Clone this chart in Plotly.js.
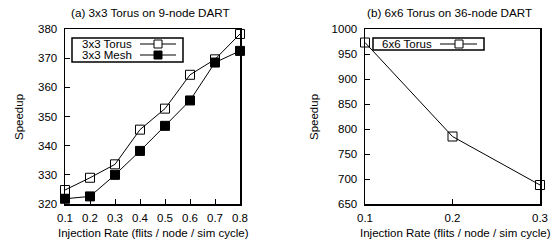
<!DOCTYPE html>
<html><head><meta charset="utf-8">
<script src="https://cdn.plot.ly/plotly-3.0.1.min.js"></script>
<style>html,body{margin:0;padding:0;background:#fff}#c{width:554px;height:245px}</style>
</head><body><div id="c"></div>
<script>
const rateA = [0.1, 0.2, 0.3, 0.4, 0.5, 0.6, 0.7, 0.8];
const torus3 = [324.8, 329.0, 333.6, 345.5, 352.7, 364.3, 369.6, 378.3];
const mesh3 = [321.8, 322.6, 330.0, 338.2, 346.8, 355.5, 368.5, 372.5];
const rateB = [0.1, 0.2, 0.3];
const torus6 = [973, 785, 688];
const seriesNames = ['3x3 Torus', '3x3 Mesh', '6x6 Torus'];
const titles = ['(a) 3x3 Torus on 9-node DART', '(b) 6x6 Torus on 36-node DART'];
const xTitle = 'Injection Rate (flits / node / sim cycle)';
const yTitle = 'Speedup';

const F = 'Liberation Sans, Arial, sans-serif';
const W = 554, H = 245;
const px = v => v / W, py = v => 1 - v / H;

const line = {color: '#000', width: 1};
const traces = [
  {x: rateA, y: torus3, name: seriesNames[0], mode: 'lines+markers', xaxis: 'x', yaxis: 'y', cliponaxis: false,
   line: line, marker: {symbol: 'square-open', size: 9, color: '#000', line: {width: 1, color: '#000'}}},
  {x: rateA, y: mesh3, name: seriesNames[1], mode: 'lines+markers', xaxis: 'x', yaxis: 'y', cliponaxis: false,
   line: line, marker: {symbol: 'square', size: 9, color: '#000', line: {width: 1, color: '#000'}}},
  {x: rateB, y: torus6, name: seriesNames[2], mode: 'lines+markers', xaxis: 'x2', yaxis: 'y2', cliponaxis: false,
   line: line, marker: {symbol: 'square-open', size: 9, color: '#000', line: {width: 1, color: '#000'}}}
];

const axBase = {showline: true, linecolor: '#000', linewidth: 1.5, mirror: true, ticks: 'inside', ticklen: 5,
  tickcolor: '#000', tickwidth: 1, showgrid: false, zeroline: false, tickfont: {family: F, size: 11.5, color: '#000'}, fixedrange: true};

const yT = py(204), yB = py(29);
const layout = {
  width: W, height: H, margin: {l: 0, r: 0, t: 0, b: 0}, paper_bgcolor: '#fff', plot_bgcolor: '#fff',
  showlegend: false,
  xaxis: Object.assign({}, axBase, {domain: [px(65), px(240)], range: [0.1, 0.8], dtick: 0.1, tick0: 0.1, anchor: 'y', ticklabelstandoff: 3}),
  yaxis: Object.assign({}, axBase, {domain: [yT, yB], range: [320, 380], dtick: 10, anchor: 'x', ticklabelstandoff: 4}),
  xaxis2: Object.assign({}, axBase, {domain: [px(365), px(540)], range: [0.1, 0.3], dtick: 0.1, tick0: 0.1, anchor: 'y2', ticklabelstandoff: 3}),
  yaxis2: Object.assign({}, axBase, {domain: [yT, yB], range: [650, 1000], dtick: 50, anchor: 'x2', ticklabelstandoff: 4}),
  annotations: [
    {text: titles[0], x: px(150), y: py(13), xref: 'paper', yref: 'paper', showarrow: false, xanchor: 'center', yanchor: 'middle', font: {family: F, size: 11.7, color: '#000'}},
    {text: titles[1], x: px(449), y: py(13), xref: 'paper', yref: 'paper', showarrow: false, xanchor: 'center', yanchor: 'middle', font: {family: F, size: 11.7, color: '#000'}},
    {text: xTitle, x: px(153), y: py(233), xref: 'paper', yref: 'paper', showarrow: false, xanchor: 'center', yanchor: 'middle', font: {family: F, size: 11.5, color: '#000'}},
    {text: xTitle, x: px(455), y: py(233), xref: 'paper', yref: 'paper', showarrow: false, xanchor: 'center', yanchor: 'middle', font: {family: F, size: 11.5, color: '#000'}},
    {text: yTitle, x: px(19), y: py(117), xref: 'paper', yref: 'paper', showarrow: false, textangle: -90, xanchor: 'center', yanchor: 'middle', font: {family: F, size: 11.5, color: '#000'}},
    {text: yTitle, x: px(314), y: py(117), xref: 'paper', yref: 'paper', showarrow: false, textangle: -90, xanchor: 'center', yanchor: 'middle', font: {family: F, size: 11.5, color: '#000'}},
    {text: seriesNames[0], x: px(134), y: py(44), xref: 'paper', yref: 'paper', showarrow: false, xanchor: 'right', yanchor: 'middle', font: {family: F, size: 11.5, color: '#000'}},
    {text: seriesNames[1], x: px(134), y: py(55), xref: 'paper', yref: 'paper', showarrow: false, xanchor: 'right', yanchor: 'middle', font: {family: F, size: 11.5, color: '#000'}},
    {text: seriesNames[2], x: px(434), y: py(44), xref: 'paper', yref: 'paper', showarrow: false, xanchor: 'right', yanchor: 'middle', font: {family: F, size: 11.5, color: '#000'}}
  ],
  shapes: [
    {type: 'rect', xref: 'paper', yref: 'paper', x0: px(72), x1: px(183), y0: py(38), y1: py(62), line: {color: '#000', width: 1.5}},
    {type: 'line', xref: 'paper', yref: 'paper', x0: px(140), x1: px(176), y0: py(44), y1: py(44), line: {color: '#000', width: 1}},
    {type: 'rect', xref: 'paper', yref: 'paper', x0: px(154), x1: px(162), y0: py(40), y1: py(48), line: {color: '#000', width: 1}, fillcolor: '#fff'},
    {type: 'line', xref: 'paper', yref: 'paper', x0: px(140), x1: px(176), y0: py(55), y1: py(55), line: {color: '#000', width: 1}},
    {type: 'rect', xref: 'paper', yref: 'paper', x0: px(154), x1: px(162), y0: py(51), y1: py(59), line: {color: '#000', width: 1}, fillcolor: '#000'},
    {type: 'rect', xref: 'paper', yref: 'paper', x0: px(373), x1: px(484), y0: py(38), y1: py(50), line: {color: '#000', width: 1.5}},
    {type: 'line', xref: 'paper', yref: 'paper', x0: px(440), x1: px(477), y0: py(44), y1: py(44), line: {color: '#000', width: 1}},
    {type: 'rect', xref: 'paper', yref: 'paper', x0: px(455), x1: px(463), y0: py(40), y1: py(48), line: {color: '#000', width: 1}, fillcolor: '#fff'}
  ]
};
Plotly.newPlot('c', traces, layout, {displayModeBar: false, staticPlot: true});
</script></body></html>
